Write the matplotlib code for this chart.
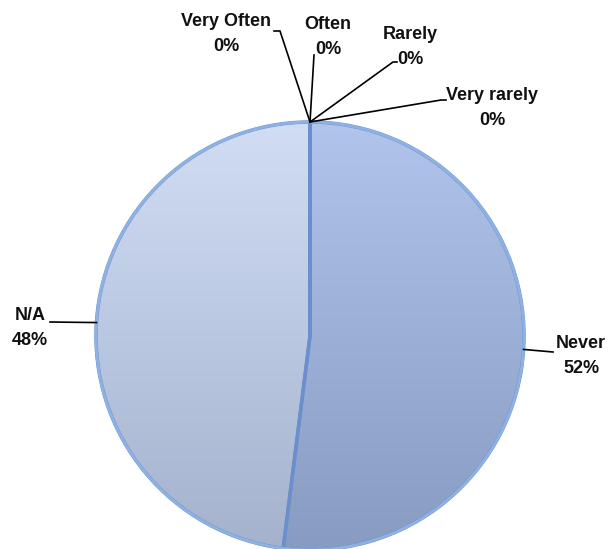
import matplotlib.pyplot as plt
import numpy as np
from matplotlib.colors import LinearSegmentedColormap

categories = ['Very Often', 'Often', 'Rarely', 'Very rarely', 'Never', 'N/A']
values = [0, 0, 0, 0, 52, 48]
pct_labels = ['0%', '0%', '0%', '0%', '52%', '48%']

# gradient colours (top, bottom) for the visible slices
shades = {
    'Never': ('#b0c4ec', '#889cc2'),
    'N/A': ('#d0ddf4', '#a5b2cd'),
}

W, H = 612, 549
cx, cy, r = 310, H - 336, 214

# label centre, elbow of leader line, end of short tick (pixel coords)
label_pos = {
    'Very Often': ((226, 34), (280, 31), (274, 31)),
    'Often': ((328, 37), (314, 55), None),
    'Rarely': ((410, 47), (393, 62), (397, 62)),
    'Very rarely': ((492, 108), (441, 100), (446, 100)),
    'Never': ((581, 356), (553, 352), None),
    'N/A': ((30, 328), (50, 322), None),
}

fig = plt.figure(figsize=(W / 100, H / 100), dpi=100)
ax = fig.add_axes([0, 0, 1, 1])

wedges, _ = ax.pie(values, startangle=90, counterclock=False,
                   center=(cx, cy), radius=r,
                   wedgeprops=dict(edgecolor='#6b8fcc', linewidth=2.5))

grad = np.linspace(0, 1, 256).reshape(-1, 1)
for w, name, v in zip(wedges, categories, values):
    if v == 0:
        continue
    top, bot = shades[name]
    cmap = LinearSegmentedColormap.from_list(name, [top, bot])
    im = ax.imshow(grad, cmap=cmap, aspect='auto', origin='upper',
                   extent=[cx - r, cx + r, cy - r, cy + r], zorder=0.5)
    im.set_clip_path(w)
    w.set_facecolor('none')
    w.set_zorder(1)

# outer rim
rim = plt.Circle((cx, cy), r, fill=False, edgecolor='#8fb2e4', linewidth=2, zorder=1.2)
ax.add_patch(rim)

for w, name, pct in zip(wedges, categories, pct_labels):
    ang = np.deg2rad((w.theta1 + w.theta2) / 2)
    px, py = cx + r * np.cos(ang), cy + r * np.sin(ang)
    (tx, ty), elbow, tip = label_pos[name]
    ex, ey = elbow
    xs = [px, ex]
    ys = [py, H - ey]
    if tip is not None:
        xs.append(tip[0])
        ys.append(H - tip[1])
    ax.plot(xs, ys, color='black', linewidth=1.2, zorder=3)
    ax.text(tx, H - ty, f'{name}\n{pct}', ha='center', va='center',
            fontsize=13, fontweight='bold', family='Liberation Sans',
            linespacing=1.6, color='#111111')

ax.set_xlim(0, W)
ax.set_ylim(0, H)
ax.set_aspect('equal')
ax.axis('off')

fig.savefig('out.png', dpi=100)
